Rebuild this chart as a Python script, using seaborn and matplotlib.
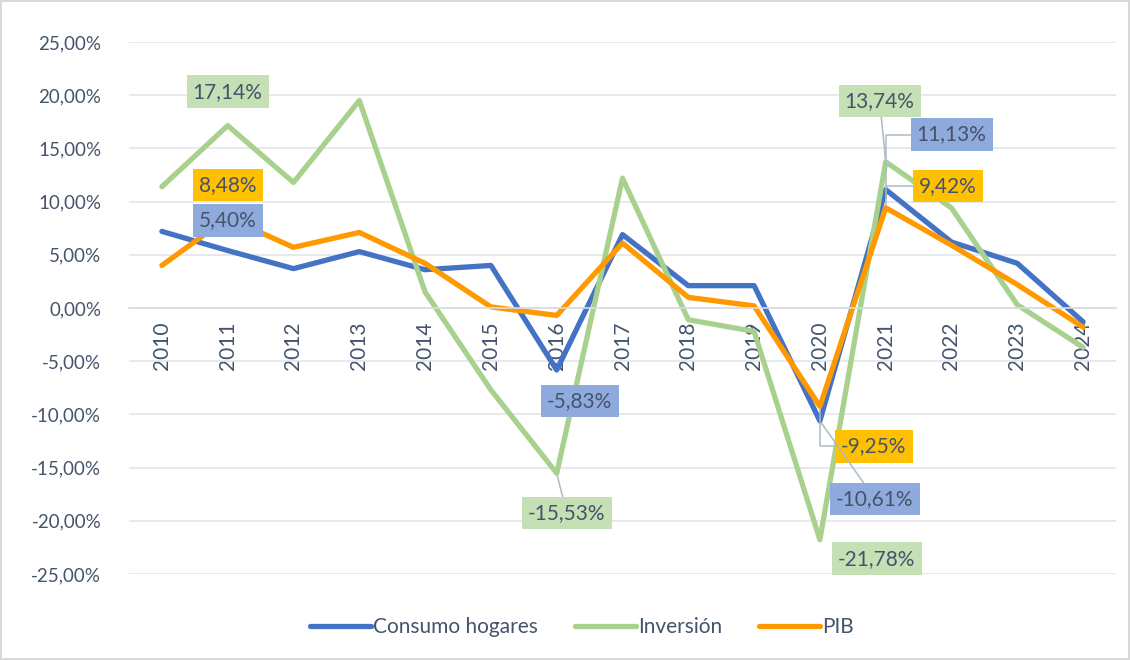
import matplotlib
matplotlib.use("Agg")
import matplotlib.pyplot as plt
import seaborn as sns
import pandas as pd
import numpy as np
from matplotlib.lines import Line2D

years = list(range(2010, 2025))
consumo = [7.2, 5.40, 3.7, 5.3, 3.6, 4.0, -5.83, 6.9, 2.1, 2.1, -10.61, 11.13, 6.2, 4.2, -1.3]
inversion = [11.4, 17.14, 11.8, 19.5, 1.5, -7.7, -15.53, 12.2, -1.1, -2.2, -21.78, 13.74, 9.4, 0.3, -3.7]
pib = [4.0, 8.48, 5.7, 7.1, 4.2, 0.1, -0.7, 6.1, 1.0, 0.2, -9.25, 9.42, 5.9, 2.2, -1.8]
series_names = ["Consumo hogares", "Inversión", "PIB"]
yticks = [-25, -20, -15, -10, -5, 0, 5, 10, 15, 20, 25]

line_colors = {"Consumo hogares": "#4472C4", "Inversión": "#A9D18E", "PIB": "#FF9900"}
box_colors = {"Consumo hogares": "#8FAADC", "Inversión": "#C5E0B4", "PIB": "#FFC000"}
text_color = "#44546A"

df = pd.DataFrame({
    "year": years * 3,
    "value": consumo + inversion + pib,
    "serie": [series_names[0]] * len(years) + [series_names[1]] * len(years) + [series_names[2]] * len(years),
})

sns.set_theme(style="white")
plt.rcParams["font.family"] = ["Lato", "DejaVu Sans"]

fig = plt.figure(figsize=(11.30, 6.60), dpi=100)
fig.patch.set_edgecolor("#D9D9D9")
fig.patch.set_linewidth(1.5)
ax = fig.add_axes([129 / 1130, 1 - 574 / 660, (1116 - 129) / 1130, (574 - 42) / 660])

sns.lineplot(data=df, x="year", y="value", hue="serie", hue_order=series_names,
             palette=line_colors, linewidth=3.8, ax=ax, legend=False, sort=False)

ax.set_xlim(2009.5, 2024.5)
ax.set_ylim(-25, 25)
ax.set_yticks(yticks)
ax.set_yticklabels([f"{v:.2f}%".replace(".", ",") for v in yticks], color=text_color, fontsize=13.5)
ax.tick_params(axis="y", length=0, pad=20)
for s in ["top", "right", "left"]:
    ax.spines[s].set_visible(False)
ax.spines["bottom"].set_position(("data", 0))
ax.spines["bottom"].set_color("#D9DCE1")
ax.spines["bottom"].set_linewidth(1.2)
ax.grid(axis="y", color="#E3E6EA", linewidth=1.2)
ax.set_axisbelow(True)
ax.set_xticks(years)
ax.set_xticklabels([str(y) for y in years], rotation=90, color=text_color, fontsize=15, va="top")
ax.set_xticks(np.arange(2009.5, 2025, 1), minor=True)
ax.tick_params(axis="x", which="major", length=0, pad=10)
ax.tick_params(axis="x", which="minor", length=5, color="#D9DCE1", width=1.2, direction="out")
ax.set_xlabel("")
ax.set_ylabel("")

# data labels: (serie, year, dx px, dy px, connection)
labels = [
    ("Inversión", 2011, 0, 34, None),
    ("PIB", 2011, 0, 33, None),
    ("Consumo hogares", 2011, 0, 30, None),
    ("Inversión", 2021, -6, 61, "arc3"),
    ("Consumo hogares", 2021, 66, 55, "angle,angleA=0,angleB=90,rad=0"),
    ("PIB", 2021, 62, 22, "angle,angleA=0,angleB=90,rad=0"),
    ("Consumo hogares", 2016, 23, -31, None),
    ("Inversión", 2016, 10, -40, "arc3"),
    ("PIB", 2020, 54, -40, "angle,angleA=0,angleB=90,rad=0"),
    ("Consumo hogares", 2020, 55, -78, "arc3"),
    ("Inversión", 2020, 57, -19, None),
]
vals = {"Consumo hogares": consumo, "Inversión": inversion, "PIB": pib}
for serie, yr, dx, dy, conn in labels:
    v = vals[serie][years.index(yr)]
    txt = f"{v:.2f}%".replace(".", ",")
    kw = {}
    if conn is not None:
        kw["arrowprops"] = dict(arrowstyle="-", color="#AEB9C8", lw=1.1,
                                connectionstyle=conn, shrinkA=0, shrinkB=2)
    ax.annotate(txt, xy=(yr, v), xytext=(dx, dy), textcoords="offset pixels",
                ha="center", va="center", fontsize=15, color=text_color, zorder=5,
                bbox=dict(boxstyle="square,pad=0.3", fc=box_colors[serie], ec="none"),
                **kw)

handles = [Line2D([0], [0], color=line_colors[n], lw=3.8, solid_capstyle="round") for n in series_names]
leg = fig.legend(handles, series_names, loc="center", bbox_to_anchor=(582 / 1130, 1 - 627 / 660),
                 ncol=3, frameon=False, fontsize=15, handlelength=2.9, handletextpad=0.1,
                 columnspacing=1.8)
for t in leg.get_texts():
    t.set_color(text_color)

fig.savefig("out.png", dpi=100)
